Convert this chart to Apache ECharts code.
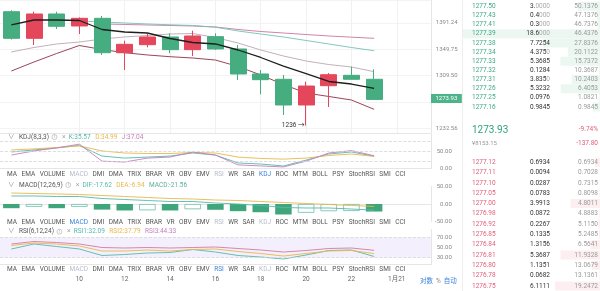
<!DOCTYPE html>
<html>
<head>
<meta charset="utf-8">
<script src="https://cdn.jsdelivr.net/npm/echarts@6.0.0/dist/echarts.min.js"></script>
<style>
html,body{margin:0;padding:0;background:#fff;}
#chart{width:600px;height:291px;}
</style>
</head>
<body>
<div id="chart"></div>
<script>
// ---------------- data ----------------
const categories = ['07','08','09','10','11','12','13','14','15','16','17','18','19','20','21','22','23','1月21','01'];
const shownXLabels = ['10','12','14','16','18','20','22','1月21'];
// [open, close, low, high]
const candles = [
  [1409.5, 1366.9, 1365.0, 1412.0],
  [1366.9, 1405.8, 1356.4, 1409.5],
  [1405.8, 1386.0, 1381.7, 1409.5],
  [1386.5, 1398.8, 1373.7, 1400.4],
  [1398.8, 1344.4, 1340.9, 1402.6],
  [1344.4, 1357.5, 1317.8, 1363.2],
  [1356.9, 1369.0, 1352.8, 1373.7],
  [1369.0, 1349.1, 1343.5, 1374.8],
  [1349.1, 1370.6, 1339.3, 1379.0],
  [1369.5, 1350.2, 1348.7, 1374.8],
  [1350.2, 1311.8, 1302.7, 1356.4],
  [1311.8, 1303.2, 1281.4, 1317.8],
  [1303.8, 1265.7, 1251.2, 1310.3],
  [1265.7, 1293.7, 1236.0, 1300.2],
  [1294.2, 1310.7, 1262.8, 1313.3],
  [1309.8, 1303.8, 1303.8, 1322.9],
  [1303.8, 1273.93, 1273.93, 1318.9]
];
const lastPrice = 1273.93;
const lowIndex = 13;
const lowValue = 1236;
const mainTickLabels = ['1391.24', '1349.75', '1309.50', '1232.56'];

const lineMid   = [1388.1,1396.1,1396.1,1395.3,1380.9,1376.9,1375.3,1366.6,1360.3,1358.0,1348.6,1337.0,1323.9,1312.5,1300.5,1296.7,1290.3];
const lineLower = [1316.3,1330.1,1343.2,1355.6,1349.4,1344.4,1340.9,1338.2,1336.2,1333.1,1323.2,1310.3,1296.0,1283.3,1278.2,1273.0,1259.4];
const lineUpper = [1345.5,1352.5,1358.0,1361.1,1365.8,1369.0,1371.3,1373.7,1374.5,1368.2,1359.5,1348.6,1339.3,1331.6,1326.2,1322.4,1315.3];
const lineTeal  = [null,null,null,1394.5,1392.9,1391.3,1389.7,1388.4,1387.3,1384.5,1378.5,1373.7,1369.0,1363.5,1358.0,1352.5,1347.5];
const linePink  = [null,null,null,null,1389.7,1388.9,1388.1,1387.3,1386.5,1384.9,1380.9,1377.7,1375.3,1372.9,1370.6,1368.7,1366.9];

const kdjK = [48,54,60,67,36,30,33,36,45,39,15.6,12.6,6.8,24,42,48,35.57];
const kdjD = [54,57,61,66,51,45,43.5,43.5,46.5,45,33,29,27,30,37.6,42,34.99];
const kdjJ = [39,51,60,71,21,18.5,30,33,48,39,10,7,4,21,45,52,37.04];

const macdDIF = [22.9,22.9,21.4,21.4,15.7,12.9,10,7.1,7.1,2.9,0,-4.3,-10,-11.4,-11.4,-14.3,-17.62];
const macdDEA = [31.4,30,28.6,27.1,24.3,21.4,18.6,15.7,14.3,11.4,10,7.1,4.3,1.4,-1.4,-4.3,-6.94];
const macdHist = [-12,-8,-12,-8,-16,-18.5,-18,-18.5,-15,-16.5,-20.5,-23.5,-30,-25,-20.5,-20,-21.56];

const rsi1 = [47,57,52,47,34,36,39,40,46,41,34,31,27,35,44,45,32.09];
const rsi2 = [54,59,57,53,43,43,45,43,46,47,42,38,33,38,43,44,37.79];
const rsi3 = [57,62,60,57,50,49,50,49,50,51,48,45,41,44,48,49,44.33];

const tabNames = ['MA','EMA','VOLUME','MACD','DMI','DMA','TRIX','BRAR','VR','OBV','EMV','RSI','WR','SAR','KDJ','ROC','MTM','BOLL','PSY','StochRSI','SMI','CCI'];

const askPrices  = ['1277.50','1277.43','1277.41','1277.39','1277.38','1277.34','1277.33','1277.32','1277.31','1277.26','1277.25','1277.16'];
const askAmounts = ['3.0000','0.4000','0.3000','18.6000','7.7254','4.3750','5.3685','0.1284','3.8350','5.3232','0.0976','0.9845'];
const askTotals  = ['50.1376','47.1376','46.7376','46.4376','27.8376','20.1122','15.7372','10.3687','10.2403','6.4053','1.0821','0.9845'];
const bidPrices  = ['1277.12','1277.11','1277.10','1277.05','1277.00','1276.98','1276.92','1276.85','1276.84','1276.81','1276.80','1276.78','1276.75'];
const bidAmounts = ['0.6934','0.0094','0.0287','0.0783','3.9913','0.0872','0.2267','0.1335','1.3156','5.3687','1.1351','0.0682','6.1111'];
const bidTotals  = ['0.6934','0.7028','0.7315','0.8098','4.8011','4.8883','5.1150','5.2485','6.5641','11.9328','13.0679','13.1361','19.2472'];
const tickerPrice = '1273.93';
const tickerCny = '¥8153.15';
const tickerPct = '-9.74%';
const tickerChg = '-137.80';

// ---------------- style ----------------
const FONT = 'Roboto, "Noto Sans CJK SC", "DejaVu Sans", sans-serif';
const GREEN = '#45ad80', RED = '#e4475b';
const TEAL = '#55b9ad', YELLOW = '#e8b84a', PURPLE = '#c57fc0';
const BLUE = '#3c82d9';
const GL = -10, GR = 169.2;
const LOG_BASE = Math.exp(Math.log(1309.5) / 237);

const chart = echarts.init(document.getElementById('chart'), null, {renderer: 'canvas', width: 600, height: 291});

function xAxisCfg(i, showLabels, split) {
  return {
    type: 'category', gridIndex: i, data: categories, boundaryGap: true,
    axisLine: {show: true, lineStyle: {color: '#e6e6e6', width: 1}},
    axisTick: {show: false},
    axisLabel: {
      show: showLabels, fontSize: 6.5, color: '#666', fontFamily: FONT, margin: 12,
      interval: (idx, v) => shownXLabels.includes(v)
    },
    splitLine: {
      show: split, alignWithLabel: true,
      interval: (idx, v) => shownXLabels.includes(v),
      lineStyle: {color: '#f1f1f1', width: 1}
    }
  };
}
function subY(i, min, max, interval, fmt) {
  return {
    type: 'value', gridIndex: i, position: 'right', min, max, interval,
    axisLine: {show: true, lineStyle: {color: '#e6e6e6'}},
    axisTick: {show: false},
    splitLine: {show: false},
    axisLabel: {fontSize: 6, color: '#888', fontFamily: FONT, align: 'right', margin: 21, formatter: fmt}
  };
}

const macdBarData = macdHist.map((v, i) => {
  const prev = i > 0 ? macdHist[i - 1] : 0;
  const growing = Math.abs(v) >= Math.abs(prev);
  return {value: v, itemStyle: growing ? {color: '#3fa67c'} : {color: '#fff', borderColor: '#6cbcaa', borderWidth: 0.8}};
});

// ---------------- graphic overlays ----------------
const g = [];
function txt(x, y, text, fill, size, align, extra) {
  g.push({type: 'text', silent: true, z: 100, style: Object.assign({
    x, y, text, fill, fontSize: size, fontFamily: FONT, align: align || 'left', verticalAlign: 'middle'
  }, extra || {})});
}
function header(y, name, vals) {
  const rich = {
    c: {fill: '#888', fontSize: 6.5, fontFamily: FONT, padding: [0, 4.5, 0, 0]},
    n: {fill: '#555', fontSize: 6.5, fontFamily: FONT, padding: [0, 3, 0, 0]},
    i: {fill: '#aaa', fontSize: 4.5, fontFamily: FONT, width: 5, height: 5, align: 'center', borderColor: '#aaa', borderWidth: 0.6, borderRadius: 3, padding: [0, 0, 0, 0]},
    s: {fill: '#fff', fontSize: 6.5, fontFamily: FONT, width: 5},
    x: {fill: '#aaa', fontSize: 7, fontFamily: FONT, padding: [0, 3, 0, 0]}
  };
  let text = '{c|∨}{n|' + name + '}{i|i}{s| }{x|×}';
  vals.forEach((v, k) => {
    rich['v' + k] = {fill: v[1], fontSize: 6.5, fontFamily: FONT, padding: [0, 4.5, 0, 0]};
    text += '{v' + k + '|' + v[0] + '}';
  });
  g.push({type: 'text', silent: true, z: 100, style: {x: 8, y, text, rich, fontSize: 6.5, fontFamily: FONT, verticalAlign: 'middle'}});
}
function tabRow(y, dim, blue) {
  const text = tabNames.map(n => '{' + (n === blue ? 'b' : (dim.includes(n) ? 'd' : 'n')) + '|' + n + '}').join('');
  const base = {fontSize: 6.5, fontFamily: FONT, padding: [0, 2.24, 0, 2.24]};
  g.push({type: 'text', silent: true, z: 100, style: {x: 4.8, y, text, fontSize: 6.5, fontFamily: FONT, verticalAlign: 'middle', rich: {
    n: Object.assign({fill: '#555'}, base),
    d: Object.assign({fill: '#b6bdcb'}, base),
    b: Object.assign({fill: BLUE}, base)
  }}});
}

const last = a => a[a.length - 1].toFixed(2);
header(137, 'KDJ(8,3,3)', [['K:' + last(kdjK), TEAL], ['D:' + last(kdjD), YELLOW], ['J:' + last(kdjJ), PURPLE]]);
header(185, 'MACD(12,26,9)', [['DIF:' + last(macdDIF), TEAL], ['DEA:' + last(macdDEA), YELLOW], ['MACD:' + last(macdHist), '#5aae9c']]);
header(231.7, 'RSI(6,12,24)', [['RSI1:' + last(rsi1), TEAL], ['RSI2:' + last(rsi2), YELLOW], ['RSI3:' + last(rsi3), PURPLE]]);
tabRow(174.3, ['MACD', 'RSI'], 'KDJ');
tabRow(222, ['RSI', 'KDJ'], 'MACD');
tabRow(269.3, ['MACD', 'KDJ'], 'RSI');

// bottom-right controls
g.push({type: 'text', silent: true, z: 100, style: {x: 420, y: 281, verticalAlign: 'middle', fontSize: 6.5, fontFamily: FONT,
  text: '{b|对数}{g|%}{b|自动}', rich: {
    b: {fill: BLUE, fontSize: 6.5, fontFamily: FONT, padding: [0, 3, 0, 0]},
    g: {fill: '#888', fontSize: 6.5, fontFamily: FONT, padding: [0, 3, 0, 0]}
  }}});

// current price badge on the main price axis
g.push({type: 'text', silent: true, z: 120, style: {x: 431, y: 98.5, text: lastPrice.toFixed(2), fill: '#fff', fontSize: 6, fontFamily: FONT,
  verticalAlign: 'middle', backgroundColor: '#4db38a', padding: [1.5, 4.5, 1.5, 4.5]}});

// order book
g.push({type: 'line', silent: true, z: 90, shape: {x1: 462.5, y1: 0, x2: 462.5, y2: 291}, style: {stroke: '#eeeeee', lineWidth: 1}});
const allAmounts = askAmounts.concat(bidAmounts).map(Number);
const maxAmount = Math.max.apply(null, allAmounts);
const BOOK_W = 600 - 463;
function amountRich(s) {
  const m = s.match(/^(.*?)(0*)$/);
  return '{a|' + m[1] + '}' + (m[2] ? '{z|' + m[2] + '}' : '');
}
function bookRow(y, price, amount, total, priceColor, barColor) {
  const w = Number(amount) / maxAmount * BOOK_W;
  g.push({type: 'rect', silent: true, z: 91, shape: {x: 600 - w, y: y - 4.5, width: w, height: 9}, style: {fill: barColor}});
  txt(472, y, price, priceColor, 6.5);
  g.push({type: 'text', silent: true, z: 100, style: {x: 550, y, align: 'right', verticalAlign: 'middle', fontSize: 6.5, fontFamily: FONT,
    text: amountRich(amount), rich: {a: {fill: '#333', fontSize: 6.5, fontFamily: FONT}, z: {fill: '#aaa', fontSize: 6.5, fontFamily: FONT}}}});
  txt(598, y, total, '#9a9a9a', 6.5, 'right');
}
askPrices.forEach((p, i) => bookRow(6.3 + i * 9.15, p, askAmounts[i], askTotals[i], '#3fa983', 'rgba(69,173,128,0.10)'));
bidPrices.forEach((p, i) => bookRow(162.3 + i * 10.3, p, bidAmounts[i], bidTotals[i], '#e0607a', 'rgba(228,71,91,0.09)'));
txt(472, 130, tickerPrice, '#2fa57a', 10);
txt(472, 143.5, tickerCny, '#999', 6);
txt(598, 129, tickerPct, '#e0607a', 6.5, 'right');
txt(598, 143.5, tickerChg, '#e0607a', 6.5, 'right');

// ---------------- option ----------------
const thin = (c, w) => ({color: c, width: w});
const option = {
  animation: false,
  backgroundColor: '#fff',
  grid: [
    {left: GL, right: GR, top: 0, height: 133},
    {left: GL, right: GR, top: 134.3, height: 34},
    {left: GL, right: GR, top: 186.5, height: 35},
    {left: GL, right: GR, top: 229.5, height: 35}
  ],
  xAxis: [xAxisCfg(0, false, true), xAxisCfg(1, false, false), xAxisCfg(2, false, false), xAxisCfg(3, true, false)],
  yAxis: [
    {
      type: 'log', logBase: LOG_BASE, gridIndex: 0, position: 'right',
      min: Math.pow(LOG_BASE, 234.81), max: Math.pow(LOG_BASE, 239.876),
      axisLine: {show: true, lineStyle: {color: '#e6e6e6'}},
      axisTick: {show: false},
      splitLine: {show: true, lineStyle: {color: '#f3f3f3'}},
      axisLabel: {fontSize: 6, color: '#888', fontFamily: FONT, margin: 5,
        formatter: v => mainTickLabels.find(t => Math.abs(+t - v) / v < 0.002) || ''}
    },
    subY(1, 0, 100, 50, v => v === 100 ? '' : v.toFixed(2)),
    subY(2, -50, 50, 50, v => v.toFixed(2)),
    subY(3, 16, 86, 2, v => (v === 30 || v === 50 || v === 70) ? v.toFixed(2) : '')
  ],
  series: [
    {
      type: 'candlestick', xAxisIndex: 0, yAxisIndex: 0, data: candles, barWidth: 16.5, z: 3,
      itemStyle: {color: RED, color0: GREEN, borderColor: RED, borderColor0: GREEN, borderWidth: 1},
      markPoint: {
        silent: true, symbol: 'circle', symbolSize: 1, itemStyle: {color: 'rgba(0,0,0,0)'},
        label: {show: true, position: 'left', distance: 1, formatter: lowValue + ' →', color: '#333', fontSize: 6.5, fontFamily: FONT},
        data: [{coord: [lowIndex, lowValue]}]
      }
    },
    {type: 'line', xAxisIndex: 0, yAxisIndex: 0, data: linePink, symbol: 'none', lineStyle: thin('#c9779a', 0.9), z: 2},
    {type: 'line', xAxisIndex: 0, yAxisIndex: 0, data: lineTeal, symbol: 'none', lineStyle: thin('#74c2b6', 0.9), z: 2},
    {type: 'line', xAxisIndex: 0, yAxisIndex: 0, data: lineUpper, symbol: 'none', lineStyle: thin('#bba7b1', 0.9), z: 2},
    {type: 'line', xAxisIndex: 0, yAxisIndex: 0, data: lineLower, symbol: 'none', lineStyle: thin('#8e3045', 0.9), z: 2},
    {type: 'line', xAxisIndex: 0, yAxisIndex: 0, data: lineMid, symbol: 'none', lineStyle: thin('#1e1e1e', 1.3), z: 4},

    {type: 'line', xAxisIndex: 1, yAxisIndex: 1, data: kdjK, symbol: 'none', lineStyle: thin(TEAL, 0.9),
      markLine: {silent: true, symbol: 'none', label: {show: false}, lineStyle: {type: 'dashed', color: '#d6d6d6', width: 0.8},
        data: [{yAxis: 20}, {yAxis: 50}, {yAxis: 80}]}},
    {type: 'line', xAxisIndex: 1, yAxisIndex: 1, data: kdjD, symbol: 'none', lineStyle: thin(YELLOW, 0.9)},
    {type: 'line', xAxisIndex: 1, yAxisIndex: 1, data: kdjJ, symbol: 'none', lineStyle: thin(PURPLE, 0.9)},

    {type: 'bar', xAxisIndex: 2, yAxisIndex: 2, data: macdBarData, barWidth: 16.5},
    {type: 'line', xAxisIndex: 2, yAxisIndex: 2, data: macdDIF, symbol: 'none', lineStyle: thin(TEAL, 0.9)},
    {type: 'line', xAxisIndex: 2, yAxisIndex: 2, data: macdDEA, symbol: 'none', lineStyle: thin(YELLOW, 0.9)},

    {type: 'line', xAxisIndex: 3, yAxisIndex: 3, data: rsi1, symbol: 'none', lineStyle: thin(TEAL, 0.9),
      markArea: {silent: true, itemStyle: {color: '#f4effc'}, data: [[{yAxis: 30}, {yAxis: 70}]]},
      markLine: {silent: true, symbol: 'none', label: {show: false}, lineStyle: {type: 'dashed', color: '#d6d6d6', width: 0.8},
        data: [{yAxis: 30}, {yAxis: 70}]}},
    {type: 'line', xAxisIndex: 3, yAxisIndex: 3, data: rsi2, symbol: 'none', lineStyle: thin(YELLOW, 0.9)},
    {type: 'line', xAxisIndex: 3, yAxisIndex: 3, data: rsi3, symbol: 'none', lineStyle: thin('#d17c9f', 0.9)}
  ],
  graphic: g
};
chart.setOption(option);
</script>
</body>
</html>
